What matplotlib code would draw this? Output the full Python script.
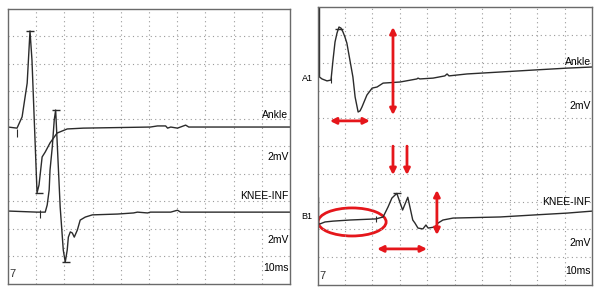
import matplotlib
matplotlib.use("Agg")
import matplotlib.pyplot as plt
from matplotlib.patches import Ellipse

plt.rcParams['font.family'] = ['Liberation Sans', 'DejaVu Sans']

# time in ms (10 ms / div), amplitude in divisions (2 mV / div)
# ---- left panel ----
l_ankle_t = [0, 0, 3.2, 5.0, 6.8, 7.8, 8.5, 10.3, 11.0, 12.1, 13.2, 14.9, 17.4, 21.0,
             26.7, 50.5, 53.0, 55.9, 56.6, 57.7, 60.1, 63.0, 64.1, 100]
l_ankle_v = [8.25, 5.70, 5.66, 6.07, 7.30, 9.20, 8.14, 3.30, 3.59, 4.61, 4.79, 5.12, 5.48, 5.63,
             5.66, 5.70, 5.74, 5.74, 5.66, 5.70, 5.66, 5.77, 5.70, 5.70]
l_knee_t = [0, 10.3, 13.2, 13.9, 14.6, 14.9, 15.7, 16.4, 16.9, 17.4, 18.5, 19.6, 20.3, 21.0,
            21.4, 22.1, 22.8, 23.5, 24.6, 25.6, 27.4, 29.9, 38.8, 44.5, 45.9, 49.5, 50.5,
            57.7, 60.1, 61.2, 100]
l_knee_v = [2.64, 2.60, 2.60, 2.86, 3.41, 4.13, 4.97, 5.96, 6.32, 5.23, 2.79, 1.22, 0.78, 1.22,
            1.69, 1.88, 1.84, 1.69, 1.95, 2.31, 2.42, 2.50, 2.53, 2.57, 2.60, 2.57, 2.60,
            2.60, 2.67, 2.60, 2.60]
l_peak_t = [7.9, 16.9]
l_peak_v = [9.20, 6.32]
l_trough_t = [10.9, 20.5]
l_trough_v = [3.28, 0.78]
l_onset_t = [3.2, 11.4]
l_onset_v = [5.50, 2.55]

# ---- right panel ----
r_ankle_t = [0.73, 0.73, 1.64, 3.46, 4.92, 5.65, 6.38, 7.10, 7.83, 8.56, 9.29, 10.0, 10.7,
             11.8, 12.9, 13.7, 14.8, 15.5, 16.2, 18.0, 19.9, 21.7, 23.9, 30.1, 36.2, 36.6,
             37.3, 42.1, 46.4, 47.2, 47.9, 54.5, 66.6, 78.6, 91.0, 100]
r_ankle_v = [10.0, 7.49, 7.42, 7.35, 7.38, 8.10, 8.75, 9.07, 9.29, 9.25, 9.11, 8.93, 8.71,
             8.10, 7.49, 6.77, 6.23, 6.27, 6.41, 6.84, 7.09, 7.13, 7.27, 7.31, 7.42, 7.45,
             7.42, 7.45, 7.53, 7.60, 7.53, 7.60, 7.67, 7.74, 7.81, 7.85]
r_knee_t = [0.36, 0.36, 0.91, 2.73, 5.65, 11.8, 21.3, 23.9, 25.7, 27.1, 28.9, 31.0, 32.9,
            34.7, 35.5, 36.6, 38.4, 39.5, 40.3, 42.8, 43.9, 45.7, 49.4, 66.6, 78.6, 91.0, 100]
r_knee_v = [3.13, 2.20, 2.20, 2.27, 2.30, 2.34, 2.38, 2.45, 2.81, 3.13, 3.30, 2.70, 3.16,
            2.34, 2.23, 2.05, 2.02, 2.16, 2.05, 2.09, 2.23, 2.34, 2.41, 2.45, 2.52, 2.59, 2.66]
r_peak_t = [7.83, 28.9]
r_peak_v = [9.22, 3.30]
r_onset_t = [4.92, 21.3]
r_onset_v = [7.38, 2.38]

labels = ["Ankle", "2mV", "KNEE-INF", "2mV", "10ms"]
l_label_y = [6.14, 4.61, 3.19, 1.58, 0.56]
r_label_y = [8.03, 6.45, 2.99, 1.51, 0.50]

red = "#e5161b"
trace = "#2b2b2b"

fig = plt.figure(figsize=(5.99, 2.92), dpi=100)
ax1 = fig.add_axes([8 / 599, 8.5 / 292, 282 / 599, 274.5 / 292])
ax2 = fig.add_axes([317.5 / 599, 7 / 292, 274.5 / 599, 277.7 / 292])

for ax in (ax1, ax2):
    ax.set_xlim(0, 100)
    ax.set_ylim(0, 10)
    ax.set_xticks(range(10, 100, 10))
    ax.set_yticks(range(1, 10))
    ax.tick_params(length=0, labelbottom=False, labelleft=False)
    ax.grid(True, color="#9a9a9a", linestyle=(0, (1, 3)), linewidth=0.8)
    for s in ax.spines.values():
        s.set_color("#6a6a6a")
        s.set_linewidth(1.0)
    ax.text(0.6, 0.15, "7", fontsize=8, ha="left", va="bottom", color="#333333")

ax1.plot(l_ankle_t, l_ankle_v, color=trace, lw=1.0)
ax1.plot(l_knee_t, l_knee_v, color=trace, lw=1.0)
ax1.plot(l_peak_t, l_peak_v, ls="none", marker="_", ms=6, mew=1, color=trace)
ax1.plot(l_trough_t, l_trough_v, ls="none", marker="_", ms=6, mew=1, color=trace)
ax1.plot(l_onset_t, l_onset_v, ls="none", marker="|", ms=6, mew=0.8, color=trace)
for lab, y in zip(labels, l_label_y):
    ax1.text(99.5, y, lab, fontsize=7.5, ha="right", va="center")

ax2.plot(r_ankle_t, r_ankle_v, color=trace, lw=1.0)
ax2.plot(r_knee_t, r_knee_v, color=trace, lw=1.0)
ax2.plot(r_peak_t, r_peak_v, ls="none", marker="_", ms=6, mew=1, color=trace)
ax2.plot(r_onset_t, r_onset_v, ls="none", marker="|", ms=5, mew=0.8, color=trace)
for lab, y in zip(labels, r_label_y):
    ax2.text(99.5, y, lab, fontsize=7.5, ha="right", va="center")
ax2.text(-3.8, 7.42, "A1", fontsize=6.5, ha="center", va="center", clip_on=False)
ax2.text(-3.8, 2.48, "B1", fontsize=6.5, ha="center", va="center", clip_on=False)

# red annotations
both = dict(arrowstyle="<|-|>", color=red, lw=2, mutation_scale=9, shrinkA=0, shrinkB=0)
down = dict(arrowstyle="-|>", color=red, lw=2, mutation_scale=9, shrinkA=0, shrinkB=0)
ax2.annotate("", xy=(4.5, 5.91), xytext=(19.1, 5.91), arrowprops=both)
ax2.annotate("", xy=(27.5, 9.29), xytext=(27.5, 6.12), arrowprops=both)
ax2.annotate("", xy=(27.5, 3.96), xytext=(27.5, 5.0), arrowprops=down)
ax2.annotate("", xy=(32.6, 3.96), xytext=(32.6, 5.0), arrowprops=down)
ax2.annotate("", xy=(43.5, 3.42), xytext=(43.5, 1.80), arrowprops=both)
ax2.annotate("", xy=(21.7, 1.30), xytext=(39.9, 1.30), arrowprops=both)
ax2.add_patch(Ellipse((12.6, 2.27), 24.8, 1.01, fill=False, edgecolor=red, lw=2))

fig.savefig("out.png", dpi=100)
